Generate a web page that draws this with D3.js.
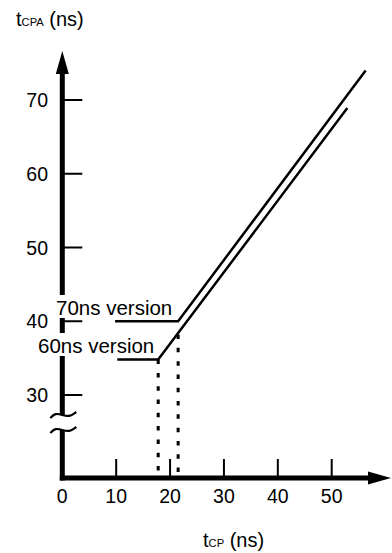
<!DOCTYPE html>
<html>
<head>
<meta charset="utf-8">
<script src="https://cdn.jsdelivr.net/npm/d3@7"></script>
<style>
  body { margin: 0; background: #fff; }
  svg { display: block; font-family: "Liberation Sans", Arial, sans-serif; }
</style>
</head>
<body>
<svg width="392" height="553"></svg>
<script>
// data
const xTicks = [10, 20, 30, 40, 50];
const xTickLabels = ['0', '10', '20', '30', '40', '50'];
const yTicks = [30, 40, 50, 60, 70];
const series = ['70ns version', '60ns version'];
const line70 = [[9.8, 40], [21.5, 40], [56.3, 74]];
const line60 = [[10.2, 34.8], [17.8, 34.8], [52.9, 68.9]];
const drop70 = [[21.5, 38.2], [21.5, 0]];
const drop60 = [[17.8, 34.8], [17.8, 0]];

const svg = d3.select('svg');

const x = d3.scaleLinear().domain([0, 50]).range([62.3, 331.7]);
const y = d3.scaleLinear().domain([30, 70]).range([395, 100]);

const axisY = 478;      // where x axis sits (y axis is broken below 30)
const breakTop = 415, breakBot = 430;
const yTop = 72;        // arrow base

// helper: y pos clamped to x axis for values below the break
const py = v => v <= 0 ? axisY : y(v);

// y axis line (broken)
svg.append('line')
  .attr('x1', x(0)).attr('x2', x(0))
  .attr('y1', yTop).attr('y2', breakTop)
  .attr('stroke', '#000').attr('stroke-width', 5);
svg.append('line')
  .attr('x1', x(0)).attr('x2', x(0))
  .attr('y1', breakBot).attr('y2', axisY + 2.5)
  .attr('stroke', '#000').attr('stroke-width', 5);

// y arrow
svg.append('path')
  .attr('d', `M${x(0)},51 L${x(0) - 6.5},${yTop + 2} L${x(0) + 6.5},${yTop + 2} Z`)
  .attr('fill', '#000');

// break marks
const tilde = d3.line().curve(d3.curveBasis);
[breakTop, breakBot].forEach(by => {
  svg.append('path')
    .attr('d', tilde([[x(0) - 12, by + 3], [x(0) - 7, by - 2], [x(0), by], [x(0) + 7, by + 2], [x(0) + 14, by - 3]]))
    .attr('fill', 'none').attr('stroke', '#000').attr('stroke-width', 2.2);
});

// x axis line
svg.append('line')
  .attr('x1', x(0) - 2.5).attr('x2', 370)
  .attr('y1', axisY).attr('y2', axisY)
  .attr('stroke', '#000').attr('stroke-width', 5);
svg.append('path')
  .attr('d', `M391,${axisY} L368,${axisY - 6.5} L368,${axisY + 6.5} Z`)
  .attr('fill', '#000');

// y ticks
svg.selectAll('.ytick').data(yTicks).enter().append('line')
  .attr('class', 'ytick')
  .attr('x1', x(0)).attr('x2', x(0) + 20)
  .attr('y1', d => y(d)).attr('y2', d => y(d))
  .attr('stroke', '#000').attr('stroke-width', 2);
svg.selectAll('.ylab').data(yTicks).enter().append('text')
  .attr('class', 'ylab')
  .attr('x', 48).attr('y', d => y(d))
  .attr('dy', '0.36em')
  .attr('text-anchor', 'end')
  .attr('font-size', 19.5)
  .text(d => d);

// x ticks
svg.selectAll('.xtick').data(xTicks).enter().append('line')
  .attr('class', 'xtick')
  .attr('x1', d => x(d)).attr('x2', d => x(d))
  .attr('y1', axisY).attr('y2', axisY - 19)
  .attr('stroke', '#000').attr('stroke-width', 2);
svg.selectAll('.xlab').data(xTickLabels).enter().append('text')
  .attr('class', 'xlab')
  .attr('x', d => x(+d)).attr('y', 503)
  .attr('text-anchor', 'middle')
  .attr('font-size', 19.5)
  .text(d => d);

// series labels, on a white box that hides the axis behind them
[[56, 315], [38, 353]].forEach((p, i) => {
  const g = svg.append('g');
  const t = g.append('text').attr('x', p[0]).attr('y', p[1])
    .attr('font-size', 20.5).text(series[i]);
  const b = t.node().getBBox();
  g.insert('rect', 'text')
    .attr('x', b.x - 1).attr('y', b.y - 1)
    .attr('width', b.width + 2).attr('height', b.height)
    .attr('fill', '#fff');
});

// dotted drop lines
const line = d3.line().x(d => x(d[0])).y(d => py(d[1]));
[drop70, drop60].forEach(dl => {
  svg.append('path')
    .attr('d', line(dl))
    .attr('fill', 'none').attr('stroke', '#000')
    .attr('stroke-width', 3)
    .attr('stroke-dasharray', '4.5 8.8');
});

// series lines
[line70, line60].forEach(l => {
  svg.append('path')
    .attr('d', line(l))
    .attr('fill', 'none').attr('stroke', '#000')
    .attr('stroke-width', 2.5)
    .attr('stroke-linejoin', 'miter');
});

// axis titles
const yt = svg.append('text').attr('x', 16).attr('y', 25.5).attr('font-size', 20);
yt.append('tspan').text('t');
yt.append('tspan').attr('font-size', 11.2).text('CPA');
yt.append('tspan').text(' (ns)');

const xt = svg.append('text').attr('x', 203).attr('y', 546.5).attr('font-size', 20);
xt.append('tspan').text('t');
xt.append('tspan').attr('font-size', 11.2).text('CP');
xt.append('tspan').text(' (ns)');
</script>
</body>
</html>
